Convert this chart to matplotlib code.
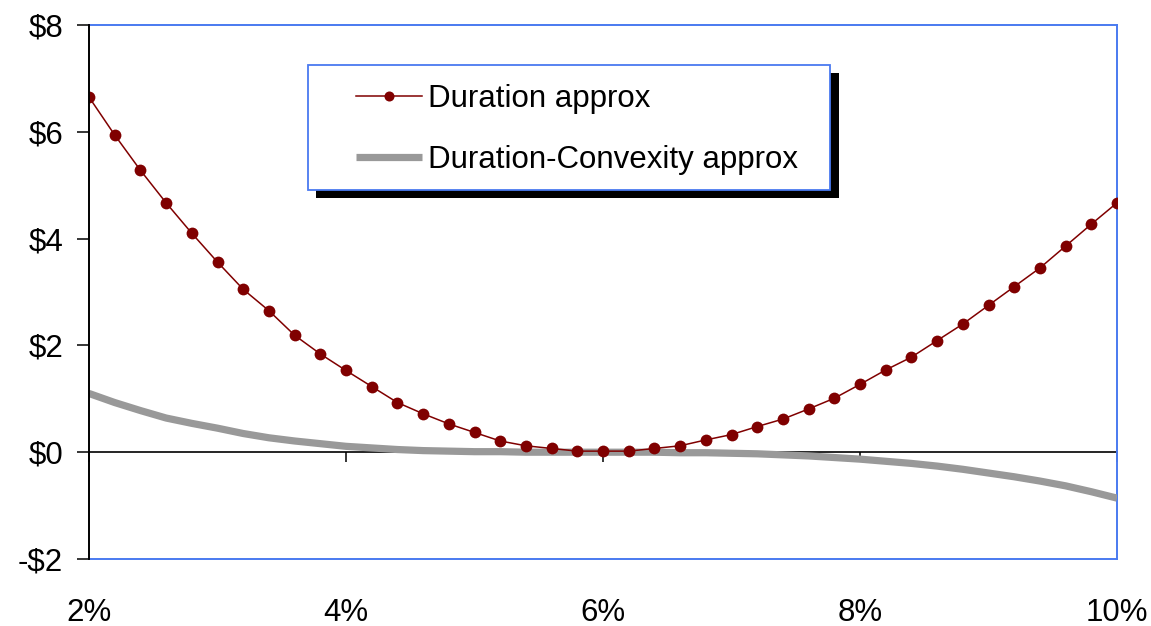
import matplotlib
matplotlib.use("Agg")
import matplotlib.pyplot as plt
from matplotlib.patches import Rectangle
import matplotlib.patheffects as pe

# Yield levels (%) at which the price-change approximation errors are evaluated
rates = [2.0, 2.2, 2.4, 2.6, 2.8, 3.0, 3.2, 3.4, 3.6, 3.8,
         4.0, 4.2, 4.4, 4.6, 4.8, 5.0, 5.2, 5.4, 5.6, 5.8,
         6.0, 6.2, 6.4, 6.6, 6.8, 7.0, 7.2, 7.4, 7.6, 7.8,
         8.0, 8.2, 8.4, 8.6, 8.8, 9.0, 9.2, 9.4, 9.6, 9.8, 10.0]

# Error of the duration-only approximation ($)
duration_err = [6.65, 5.94, 5.28, 4.67, 4.10, 3.56, 3.05, 2.65, 2.19, 1.84,
                1.53, 1.23, 0.93, 0.72, 0.53, 0.37, 0.21, 0.12, 0.07, 0.02,
                0.02, 0.02, 0.07, 0.12, 0.23, 0.33, 0.48, 0.62, 0.81, 1.01,
                1.27, 1.54, 1.78, 2.09, 2.40, 2.75, 3.10, 3.45, 3.86, 4.27, 4.67]

# Error of the duration + convexity approximation ($)
dur_conv_err = [1.10, 0.93, 0.78, 0.64, 0.54, 0.45, 0.35, 0.27, 0.21, 0.16,
                0.11, 0.08, 0.05, 0.03, 0.02, 0.01, 0.01, 0.00, 0.00, 0.00,
                0.00, 0.00, 0.00, -0.01, -0.01, -0.02, -0.03, -0.05, -0.07, -0.10,
                -0.13, -0.17, -0.21, -0.26, -0.32, -0.39, -0.46, -0.54, -0.63, -0.74, -0.86]

x_ticks = [2, 4, 6, 8, 10]
x_labels = ["2%", "4%", "6%", "8%", "10%"]
y_ticks = [-2, 0, 2, 4, 6, 8]
y_labels = [r"-\$2", r"\$0", r"\$2", r"\$4", r"\$6", r"\$8"]

series_names = ["Duration approx", "Duration-Convexity approx"]

FONT = "Liberation Sans"
BLUE = "#4a7af0"
RED = "#800000"
GREY = "#999999"

fig = plt.figure(figsize=(11.51, 6.26), dpi=100)
ax = fig.add_axes([89 / 1151, 1 - 559 / 626, (1117 - 89) / 1151, (559 - 25) / 626])

ax.set_xlim(rates[0], rates[-1])
ax.set_ylim(y_ticks[0], y_ticks[-1])

ax.plot(rates, dur_conv_err, color=GREY, lw=5.2, solid_capstyle="butt",
        zorder=3, label=series_names[1])
ax.plot(rates, duration_err, color=RED, lw=1.1, marker="o", ms=8.5,
        markeredgewidth=0, zorder=4, label=series_names[0])

# Frame: black value axis on the left, blue border elsewhere
for side in ("top", "right", "bottom"):
    ax.spines[side].set_color(BLUE)
    ax.spines[side].set_linewidth(1.4)
ax.spines["left"].set_color("black")
ax.spines["left"].set_linewidth(1.4)
ax.spines["left"].set_zorder(5)

ax.set_yticks(y_ticks)
ax.set_yticklabels(y_labels, fontfamily=FONT, fontsize=22.5)
ax.tick_params(axis="y", direction="out", length=8.6, width=1.1, pad=10)

ax.set_xticks(x_ticks)
ax.set_xticklabels(x_labels, fontfamily=FONT, fontsize=22.5)
ax.tick_params(axis="x", length=0, pad=28)

# Category axis crossing at $0 with downward ticks
zero_frac = (0 - y_ticks[0]) / (y_ticks[-1] - y_ticks[0])
xax0 = ax.secondary_xaxis(zero_frac)
xax0.set_xticks(x_ticks)
xax0.set_xticklabels([])
xax0.spines["bottom"].set_color("black")
xax0.spines["bottom"].set_linewidth(1.2)
xax0.tick_params(axis="x", direction="out", length=7.5, width=1.1)
xax0.set_zorder(1)

# Legend box with a solid black drop shadow
box = Rectangle((0.213, 0.691), 0.508, 0.234, transform=ax.transAxes,
                facecolor="white", edgecolor=BLUE, lw=1.3, zorder=6,
                path_effects=[pe.SimplePatchShadow(offset=(6, -6), shadow_rgbFace="black", alpha=1.0),
                              pe.Normal()])
ax.add_patch(box)

handles, labels = ax.get_legend_handles_labels()
leg = ax.legend(handles[::-1], labels[::-1], loc="center left",
                bbox_to_anchor=(0.26, 0.805), frameon=False,
                prop={"family": FONT, "size": 22.5}, handlelength=2.1,
                handletextpad=0.2, labelspacing=1.0, borderpad=0,
                borderaxespad=0, markerscale=0.85)
leg.set_zorder(7)

fig.savefig("out.png", dpi=100)
